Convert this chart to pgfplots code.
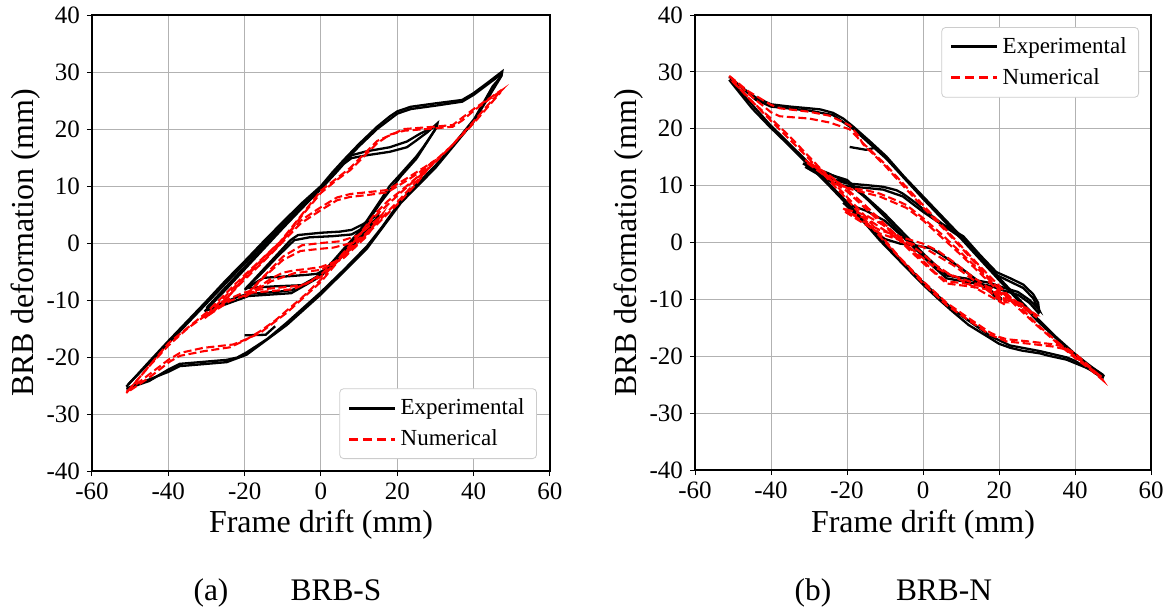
\documentclass[border=0pt]{standalone}
\usepackage{pgfplots}
\pgfplotsset{compat=1.18}
\usepackage{fontspec}
\setmainfont{Liberation Serif}

\pgfplotsset{
  brb/.style={
    scale only axis,
    anchor=south west,
    xmin=-60, xmax=60, ymin=-40, ymax=40,
    xtick={-60,-40,...,60},
    ytick={-40,-30,...,40},
    xtick pos=bottom, ytick pos=left,
    tick align=outside,
    major tick length=2.5pt,
    tick style={black, line width=0.5pt},
    axis line style={black, line width=0.7pt},
    grid=major,
    grid style={color=black!30, line width=0.5pt},
    /pgf/number format/assume math mode=true,
    ticklabel style={font=\fontsize{12.5}{14}\selectfont},
    legend cell align=left,
    legend image code/.code={\draw[##1, line width=1.5pt] (0pt,0pt) -- (23pt,0pt);},
    legend style={draw=black!20, rounded corners=2pt, fill=white,
      font=\fontsize{11.5}{13}\selectfont, row sep=2pt, inner xsep=4pt, inner ysep=3pt},
  },
  exp/.style={black, line width=1.15pt, forget plot},
  num/.style={red, line width=1.05pt, dash pattern=on 4pt off 1.8pt, forget plot},
}

\begin{document}
\begin{tikzpicture}
\useasboundingbox (0,0) rectangle (586pt,-305.5pt);

% ---------------- (a) BRB-S ----------------
\begin{axis}[brb, at={(46pt,-235.5pt)}, width=229pt, height=228pt,
  legend style={at={(1,0)}, anchor=south east, xshift=-6.5pt, yshift=6pt}]
\addlegendimage{black}
\addlegendentry{Experimental}
\addlegendimage{red, dash pattern=on 4.5pt off 2.5pt}
\addlegendentry{Numerical}

% experimental, outer cycles
\addplot[exp] coordinates {(-51,-25.2) (-45,-20.8) (-40,-17.2) (-35,-13.7) (-30,-10.2) (-25,-6.6) (-20,-3.2) (-15,0.3) (-10,3.7) (-5,7.0) (0,10) (3,12.4) (6,14.6) (10,17.4) (14.7,20.4) (18,22.2) (20,23.1) (23.5,23.9) (30,24.5) (37,25.1) (40,26.3) (44,28.3) (47.5,30.1) (47.3,29.3) (45,27.5) (40.2,21.8) (35,17.5) (30,13.6) (25,10.2) (21,7.5) (16,2.8) (12,-0.6) (6,-4.7) (0,-8.6) (-5,-11.6) (-9,-14) (-14,-16.8) (-19.5,-19.2) (-22,-20.1) (-24.7,-20.5) (-30,-20.8) (-37,-21.2) (-40,-22.2) (-45,-24.2) (-51,-25.6)};
\addplot[exp] coordinates {(-50.5,-24.8) (-40,-17.6) (-30,-10.6) (-20,-3.6) (-10,3.3) (0,9.6) (6,14.2) (10,17) (14.7,20) (20,22.7) (23.5,23.5) (30,24.1) (37,24.8) (40,26) (44,28) (47.2,29.6) (47,29.0) (40,21.3) (30,13.2) (21,7.1) (12,-1) (0,-9) (-9,-14.4) (-19.5,-19.6) (-24.7,-20.9) (-37,-21.6) (-40,-22.6) (-50.5,-25.4)};
% experimental, 30 mm cycles
\addplot[exp] coordinates {(-30.5,-12) (-25,-8.2) (-20,-4.6) (-15,-1) (-10,2.6) (-5,6.1) (0,9.5) (4,12.4) (6,13.9) (8,14.9) (12,15.4) (18,16) (22.5,16.8) (25,18) (28,19.5) (30.5,21) (30.2,20.2) (27,17) (25,15.2) (21,12.2) (18,10) (15.6,7.5) (12,3.9) (9.5,1.6) (6,-1) (3,-3.3) (0,-5.4) (-4,-7.3) (-7.8,-8.3) (-12,-8.6) (-19,-8.9) (-22,-9.5) (-26,-10.6) (-30.5,-12)};
\addplot[exp] coordinates {(-30,-11.4) (-20,-4.2) (-10,3) (0,9.9) (5,13.5) (8,15.4) (12,16.1) (18,16.8) (22.5,17.8) (26,19.2) (30.3,20.6) (30,20) (25,14.8) (21,11.8) (15.6,7.1) (12,3.5) (6,-1.4) (0,-5.8) (-7.8,-8.8) (-19,-9.3) (-26,-11) (-30,-11.8)};
% experimental, 20 mm cycles
\addplot[exp] coordinates {(-20,-8.2) (-16,-5.3) (-11.3,-1.9) (-8,0.5) (-6,1.4) (0,1.8) (5,2.0) (8,2.3) (11,3.3) (15,5) (14.8,4.4) (12,2.2) (8,-0.5) (5,-2.5) (2,-4.3) (-1,-5.4) (-4,-5.6) (-10,-5.9) (-15,-6.1) (-17,-6.9) (-20,-8.2)};
\addplot[exp] coordinates {(-19.5,-7.8) (-16,-5.6) (-11.3,-2.3) (-7,0.5) (-3,1.0) (3,1.2) (8,1.5) (11,2.6) (14.5,4.2) (12,2.0) (8,-0.8) (3,-4) (-1,-5.9) (-5,-7.4) (-12,-7.6) (-19.5,-7.9)};
\addplot[exp] coordinates {(-20,-16.2) (-14.5,-16.1) (-12,-14.6)};

% numerical
\addplot[num] coordinates {(-51,-26.3) (-45,-21.6) (-40,-18) (-35,-15) (-30,-12.6) (-26.5,-11.2) (-20,-6) (-15,-3) (-10.7,-0.2) (-5,4.8) (0,8.8) (4,11) (7.7,12.8) (11,15) (14.7,17.5) (18,19) (21.8,19.7) (29.6,20.1) (34.5,20.4) (37,21.5) (40.2,23.3) (44,25.2) (47.2,26.7) (46.5,26.2) (43.7,24.2) (40,21.3) (34,16.9) (30,14.5) (25.3,11.6) (21,9.2) (17.4,7.3) (14,5) (10.4,1.8) (5,-2.4) (0,-6.4) (-5,-9.6) (-8.9,-11.8) (-12,-13.6) (-16,-15.5) (-20,-17.1) (-23.9,-18.3) (-30.9,-19) (-37,-19.8) (-39.6,-20.8) (-45,-23.6) (-51,-26.3)};
\addplot[num] coordinates {(-50.5,-25.9) (-40,-17.6) (-30,-12.2) (-20,-5.6) (-10.7,0.2) (0,9.2) (7.7,13.2) (14.7,17.9) (21.8,20) (29.6,20.4) (34.5,20.7) (40.2,23.6) (47,26.7) (47,26.4) (40,21) (30,14.2) (21,8.9) (14,4.6) (5,-2.8) (0,-6.8) (-8.9,-12.2) (-16,-15.8) (-20,-17) (-23,-17.8) (-30.9,-18.4) (-37,-19.3) (-40,-20.5) (-51,-26.1)};
\addplot[num] coordinates {(-30.5,-13.2) (-25,-9.8) (-20,-6.4) (-15,-3.2) (-10,0.2) (-5.4,3.4) (-0.2,5.7) (4.2,7.5) (7.7,8.1) (12,8.4) (17.4,8.9) (22.6,11) (26,12.5) (30,14.6) (29.5,14) (25,10.8) (20,7.2) (15,3.8) (10,0.6) (5,-2.5) (0,-5.5) (-4,-7.2) (-7.2,-7.6) (-12,-7.9) (-18,-8.3) (-21,-8.9) (-24,-9.8) (-27,-11.3) (-30.5,-13.2)};
\addplot[num] coordinates {(-30,-12.7) (-20,-5.9) (-10,0.7) (-5.4,3.9) (0,6.3) (4.2,8) (7.7,8.6) (12,8.9) (17.4,9.3) (22.6,11.4) (29.5,14.3) (25,10.4) (20,6.8) (10,0.2) (0,-5.9) (-7.2,-8.1) (-18,-8.7) (-24,-10.2) (-30,-12.9)};
\addplot[num] coordinates {(-20,-9.5) (-15,-6) (-10,-3) (-5.4,-1.4) (0,-1) (3.3,-0.8) (8,0) (12.1,1.6) (14.7,4) (16,5) (15.5,4.4) (12,1.7) (8,-1) (4,-3.2) (0,-4.2) (-3,-4.5) (-7,-4.8) (-10,-5.2) (-13,-6.2) (-16,-7.6) (-20,-9.5)};
\addplot[num] coordinates {(-19.5,-9.0) (-10,-2.4) (-5,-0.4) (0,0) (5,0.3) (10,1.4) (15.5,4.6) (12,1.2) (6,-2.6) (0,-4.7) (-7,-5.3) (-13,-6.7) (-19.5,-9.2)};
\end{axis}

% ---------------- (b) BRB-N ----------------
\begin{axis}[brb, at={(347.5pt,-235pt)}, width=228pt, height=227.5pt,
  legend style={at={(1,1)}, anchor=north east, xshift=-6pt, yshift=-6pt}]
\addlegendimage{black}
\addlegendentry{Experimental}
\addlegendimage{red, dash pattern=on 4.5pt off 2.5pt}
\addlegendentry{Numerical}

% experimental, outer cycles
\addplot[exp] coordinates {(-51,29.2) (-48,27.4) (-44,25.5) (-40,24.3) (-35,23.9) (-30,23.6) (-27,23.4) (-23.7,22.8) (-21,21.8) (-18.4,20.4) (-14,17.8) (-9.6,15.1) (-5,11.6) (0,8.1) (5,4.6) (10,1.1) (15,-2.6) (20,-6.2) (25,-9.8) (30,-13.3) (35,-16.6) (40,-19.6) (44,-21.7) (47.5,-23.4) (47.2,-23.9) (44,-22.3) (40,-21.2) (37.8,-20.6) (33,-19.9) (30.8,-19.5) (26,-19) (22.9,-18.5) (20,-17.8) (17.6,-16.8) (12,-14.5) (7.9,-12.2) (4,-9.9) (0,-7.4) (-5,-4) (-11.4,0.4) (-15.8,3.8) (-20,6.7) (-25,10.2) (-30.7,14) (-35,16.9) (-40.4,20.4) (-45,23.6) (-51,28.6)};
\addplot[exp] coordinates {(-50.5,28.8) (-44,25.1) (-40,23.9) (-30,23.2) (-23.7,22.4) (-18.4,20) (-9.6,14.7) (0,7.7) (10,0.7) (20,-6.6) (30,-13.7) (40,-20) (47.2,-23.2) (47,-23.6) (40,-20.8) (37.8,-20.2) (30.8,-19.1) (22.9,-18.1) (17.6,-16.4) (7.9,-11.8) (0,-7) (-11.4,0.8) (-20,7.1) (-30.7,14.4) (-40.4,20.8) (-50.5,28.4)};
% experimental, 30 mm cycles
\addplot[exp] coordinates {(-31.6,13.9) (-28,12.6) (-24,11.2) (-20.2,10.4) (-15,10.1) (-10.5,9.8) (-7,9.2) (-5.3,8.6) (-2,7) (0,5.9) (5,3.3) (10.6,1.1) (15,-2.2) (19.3,-5.2) (23,-6.3) (26.4,-7.4) (29,-9.1) (30.3,-10.6) (30.6,-12.2) (30.4,-12.4) (28,-10.6) (25,-9.2) (21,-8.4) (17.6,-7.6) (12,-7) (6.2,-6.3) (3,-4.4) (0,-2.4) (-5,1) (-10,4.5) (-15,7.8) (-20,10.6) (-25,12.2) (-31.6,13.9)};
\addplot[exp] coordinates {(-31,13.3) (-24,10.6) (-20.2,9.9) (-15,9.6) (-10.5,9.3) (-5.3,8.1) (0,5.4) (10.6,0.6) (19.3,-5.7) (23,-6.9) (26.4,-8) (29,-9.8) (30.5,-11.8) (28,-10.1) (25,-8.7) (21,-7.9) (17.6,-7.1) (12,-6.4) (6.2,-5.8) (0,-1.9) (-10,5) (-20,11) (-31,13.3)};
% experimental, 20 mm cycles
\addplot[exp] coordinates {(-21,7) (-17,4.5) (-13,2) (-10,0.6) (-6,-0.2) (-2,-0.5) (2,-1) (5,-2.2) (10,-4.5) (15,-7) (20.5,-9.8) (20.3,-10.3) (17,-8.3) (13,-6.6) (8,-6) (4,-4.8) (0,-2.4) (-5,0.8) (-10,3.8) (-15,5.6) (-21,7)};
\addplot[exp] coordinates {(-19.3,16.8) (-15,16.3) (-13,16.6)};

% numerical
\addplot[num] coordinates {(-51,29.3) (-46,26.6) (-40,24.2) (-37.7,23.6) (-30,23) (-24.6,22.3) (-19.3,20.6) (-17,18.8) (-15.8,17.3) (-10,13.5) (-5,9.8) (0,6.2) (7,1.3) (15,-4.5) (20,-8.2) (25,-11.5) (30,-14.6) (35,-17.5) (40,-20.3) (44,-22.3) (47.3,-24.2) (47,-23.9) (44,-21.9) (40,-19.5) (37,-18.3) (34.3,-17.9) (28,-17.4) (22,-17) (20,-16.6) (17.6,-15.8) (12,-13.3) (6.2,-10.6) (0,-6.8) (-6.2,-2.6) (-11.4,1.5) (-15,4.5) (-20,8) (-25,11.6) (-30,15.1) (-35,18.6) (-40,21.8) (-45,24.8) (-51,28.9)};
\addplot[num] coordinates {(-50.5,29) (-45,25.6) (-40,22.9) (-37.7,22.2) (-30,21.8) (-24.6,21.1) (-19.3,19.9) (-16,17.6) (-10,13.8) (0,6.6) (15,-4.2) (30,-14.4) (40,-20.1) (47,-23.6) (44,-22.1) (40,-19.9) (37,-18.7) (34.3,-18.3) (28,-17.8) (22,-17.4) (17.6,-16.2) (6.2,-11) (0,-7.2) (-11.4,1.1) (-20,7.6) (-30,14.7) (-40,21.4) (-50.5,28.6)};
\addplot[num] coordinates {(-31,14.5) (-26,12.1) (-22,10.4) (-20,9.6) (-15,9.2) (-11.4,8.6) (-7,7.4) (-4.4,6.6) (0,4.3) (5,1.4) (10,-1.8) (15,-5) (20,-8.2) (25,-10.6) (30,-12.8) (29.5,-12.8) (26,-10.8) (22,-9.7) (17.6,-7.9) (12,-7.3) (6.2,-6.8) (3,-5.2) (0,-3.2) (-5,0) (-10,3.2) (-15,6.4) (-20,9.4) (-25,12) (-31,14.5)};
\addplot[num] coordinates {(-30.5,14) (-22,9.9) (-15,8.7) (-11.4,8.1) (-4.4,6.1) (0,3.9) (10,-2.2) (20,-8.6) (30,-13.2) (26,-11.2) (22,-10.1) (17.6,-8.3) (12,-7.7) (6.2,-7.2) (0,-3.6) (-10,2.8) (-20,9) (-30.5,14)};
\addplot[num] coordinates {(-21,6) (-16,3.8) (-11.4,2.2) (-6,1) (0,-0.2) (4,-1.5) (8,-3.4) (13,-6) (18,-8.3) (22,-10.5) (21.5,-10.5) (17,-8) (12,-6.8) (7,-5.6) (3,-3.8) (0,-2) (-5,0.4) (-10,2.9) (-15,4.8) (-21,6)};
\addplot[num] coordinates {(-20.5,5.4) (-11.4,1.6) (-6,0.4) (0,-0.8) (8,-4) (18,-8.9) (21.5,-10.9) (12,-7.3) (3,-4.3) (-5,-0.1) (-15,4.3) (-20.5,5.4)};
\end{axis}

% axis labels and captions
\node[anchor=base, font=\fontsize{16}{18}\selectfont] at (160.5pt,-266pt) {Frame drift (mm)};
\node[anchor=base, font=\fontsize{16}{18}\selectfont] at (461.5pt,-266pt) {Frame drift (mm)};
\node[anchor=base, rotate=90, font=\fontsize{16}{18}\selectfont] at (16.5pt,-121.5pt) {BRB deformation (mm)};
\node[anchor=base, rotate=90, font=\fontsize{16}{18}\selectfont] at (318pt,-121.5pt) {BRB deformation (mm)};
\node[anchor=base, font=\fontsize{15.7}{18}\selectfont] at (105.5pt,-300pt) {(a)};
\node[anchor=base, font=\fontsize{15.7}{18}\selectfont] at (168pt,-300pt) {BRB-S};
\node[anchor=base, font=\fontsize{15.7}{18}\selectfont] at (406.5pt,-300pt) {(b)};
\node[anchor=base, font=\fontsize{15.7}{18}\selectfont] at (472pt,-300pt) {BRB-N};
\end{tikzpicture}
\end{document}
